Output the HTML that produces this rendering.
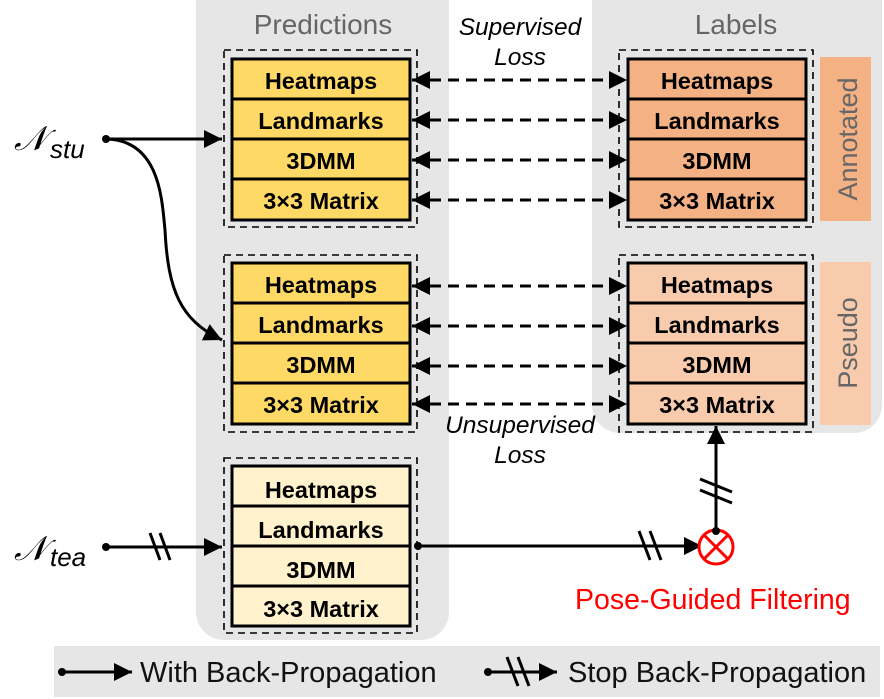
<!DOCTYPE html>
<html><head><meta charset="utf-8"><style>
html,body{margin:0;padding:0;background:#fff}
svg{display:block}
text{font-family:"Liberation Sans",sans-serif}
.b{font-weight:bold;font-size:23.5px}
</style></head><body>
<svg width="884" height="699" viewBox="0 0 884 699" xmlns="http://www.w3.org/2000/svg">
<defs>
<marker id="ab" viewBox="0 0 10 10" refX="10" refY="5" markerWidth="18" markerHeight="18" markerUnits="userSpaceOnUse" orient="auto-start-reverse"><path d="M0,0 L10,5 L0,10 z" fill="#000"/></marker>
</defs>
<rect x="196" y="-30" width="253" height="670" rx="28" fill="#e6e6e6"/>
<rect x="592" y="-30" width="290" height="463" rx="28" fill="#e6e6e6"/>
<rect x="54" y="646" width="826" height="51" fill="#e6e6e6"/>
<text x="323" y="34" font-size="28" fill="#666" text-anchor="middle">Predictions</text>
<text x="736" y="34" font-size="28" fill="#666" text-anchor="middle">Labels</text>
<text x="520" y="35" font-size="24.5" font-style="italic" text-anchor="middle">Supervised</text>
<text x="520" y="65" font-size="24.5" font-style="italic" text-anchor="middle">Loss</text>
<text x="520" y="433" font-size="24.5" font-style="italic" text-anchor="middle">Unsupervised</text>
<text x="520" y="463" font-size="24.5" font-style="italic" text-anchor="middle">Loss</text>

<g stroke="#000" stroke-width="1.6" stroke-dasharray="7,5" fill="none">
<rect x="224" y="50" width="193" height="177"/>
<rect x="224" y="255" width="193" height="177"/>
<rect x="224" y="458" width="193" height="175"/>
<rect x="619" y="50" width="194" height="177"/>
<rect x="619" y="255" width="194" height="177"/>
</g>

<g stroke="#000" stroke-width="3">
<rect x="232" y="59" width="178" height="161" fill="#ffd966"/>
<line x1="232" y1="99" x2="410" y2="99"/><line x1="232" y1="139" x2="410" y2="139"/><line x1="232" y1="179" x2="410" y2="179"/>
<rect x="232" y="263" width="178" height="161" fill="#ffd966"/>
<line x1="232" y1="303" x2="410" y2="303"/><line x1="232" y1="343" x2="410" y2="343"/><line x1="232" y1="383" x2="410" y2="383"/>
<rect x="232" y="466" width="178" height="160" fill="#fff2cc"/>
<line x1="232" y1="506" x2="410" y2="506"/><line x1="232" y1="546" x2="410" y2="546"/><line x1="232" y1="586" x2="410" y2="586"/>
<rect x="628" y="59" width="178" height="161" fill="#f4b183"/>
<line x1="628" y1="99" x2="806" y2="99"/><line x1="628" y1="139" x2="806" y2="139"/><line x1="628" y1="179" x2="806" y2="179"/>
<rect x="628" y="263" width="178" height="161" fill="#f8cbad"/>
<line x1="628" y1="303" x2="806" y2="303"/><line x1="628" y1="343" x2="806" y2="343"/><line x1="628" y1="383" x2="806" y2="383"/>
</g>
<rect x="820" y="57" width="51" height="164" fill="#f4b183"/>
<rect x="820" y="262" width="51" height="163" fill="#f8cbad"/>
<text transform="translate(857,139) rotate(-90)" font-size="27" fill="#666" text-anchor="middle">Annotated</text>
<text transform="translate(857,343) rotate(-90)" font-size="27" fill="#666" text-anchor="middle">Pseudo</text>

<g text-anchor="middle">
<text x="321" y="89" class="b">Heatmaps</text><text x="321" y="129" class="b">Landmarks</text><text x="321" y="169" class="b">3DMM</text><text x="321" y="209" class="b">3×3 Matrix</text>
<text x="321" y="293" class="b">Heatmaps</text><text x="321" y="333" class="b">Landmarks</text><text x="321" y="373" class="b">3DMM</text><text x="321" y="413" class="b">3×3 Matrix</text>
<text x="321" y="498" class="b">Heatmaps</text><text x="321" y="538" class="b">Landmarks</text><text x="321" y="578" class="b">3DMM</text><text x="321" y="617" class="b">3×3 Matrix</text>
<text x="717" y="89" class="b">Heatmaps</text><text x="717" y="129" class="b">Landmarks</text><text x="717" y="169" class="b">3DMM</text><text x="717" y="209" class="b">3×3 Matrix</text>
<text x="717" y="293" class="b">Heatmaps</text><text x="717" y="333" class="b">Landmarks</text><text x="717" y="373" class="b">3DMM</text><text x="717" y="413" class="b">3×3 Matrix</text>
</g>

<g stroke="#000" stroke-width="3" stroke-dasharray="11,7" marker-start="url(#ab)" marker-end="url(#ab)">
<line x1="412" y1="80" x2="627" y2="80"/><line x1="412" y1="120" x2="627" y2="120"/><line x1="412" y1="160" x2="627" y2="160"/><line x1="412" y1="200" x2="627" y2="200"/>
<line x1="412" y1="286" x2="627" y2="286"/><line x1="412" y1="326" x2="627" y2="326"/><line x1="412" y1="366" x2="627" y2="366"/><line x1="412" y1="404" x2="627" y2="404"/>
</g>

<text x="14" y="150" font-size="34" font-style="italic" font-family="Liberation Serif,serif">𝒩</text>
<text x="50" y="158" font-size="26" font-style="italic" font-family="Liberation Serif,serif">stu</text>
<circle cx="106" cy="139" r="4" fill="#000"/>
<line x1="106" y1="139" x2="222" y2="139" stroke="#000" stroke-width="3" marker-end="url(#ab)"/>
<path d="M106,139 C160,140 162,200 165,230 C168,290 180,320 222,340" stroke="#000" stroke-width="3" fill="none" marker-end="url(#ab)"/>

<text x="14" y="560" font-size="34" font-style="italic" font-family="Liberation Serif,serif">𝒩</text>
<text x="50" y="566" font-size="26" font-style="italic" font-family="Liberation Serif,serif">tea</text>
<circle cx="106" cy="547" r="4" fill="#000"/>
<line x1="106" y1="547" x2="222" y2="547" stroke="#000" stroke-width="3" marker-end="url(#ab)"/>
<g stroke="#000" stroke-width="3"><line x1="150" y1="533" x2="160" y2="560"/><line x1="160" y1="533" x2="170" y2="560"/></g>

<circle cx="418" cy="546" r="4" fill="#000"/>
<line x1="418" y1="546" x2="702" y2="546" stroke="#000" stroke-width="3" marker-end="url(#ab)"/>
<g stroke="#000" stroke-width="3"><line x1="639" y1="531" x2="650" y2="560"/><line x1="650" y1="531" x2="661" y2="560"/></g>
<circle cx="716" cy="547" r="17" fill="#fff" stroke="#f00" stroke-width="3"/>
<g stroke="#f00" stroke-width="3"><line x1="704" y1="535" x2="728" y2="559"/><line x1="728" y1="535" x2="704" y2="559"/></g>
<line x1="716" y1="531" x2="716" y2="426" stroke="#000" stroke-width="3" marker-end="url(#ab)"/>
<circle cx="716" cy="531" r="4" fill="#000"/>
<g stroke="#000" stroke-width="3"><line x1="700" y1="479" x2="732" y2="492"/><line x1="700" y1="490" x2="732" y2="503"/></g>
<text x="575" y="609" font-size="28.5" fill="#f00">Pose-Guided Filtering</text>

<circle cx="62" cy="672" r="4" fill="#000"/>
<line x1="62" y1="672" x2="132" y2="672" stroke="#000" stroke-width="3" marker-end="url(#ab)"/>
<text x="140" y="682" font-size="29" fill="#111">With Back-Propagation</text>
<circle cx="488" cy="672" r="4" fill="#000"/>
<line x1="488" y1="672" x2="557" y2="672" stroke="#000" stroke-width="3" marker-end="url(#ab)"/>
<g stroke="#000" stroke-width="3"><line x1="507" y1="657" x2="518" y2="686"/><line x1="518" y1="657" x2="529" y2="686"/></g>
<text x="568" y="682" font-size="29" fill="#111">Stop Back-Propagation</text>
</svg>
</body></html>
